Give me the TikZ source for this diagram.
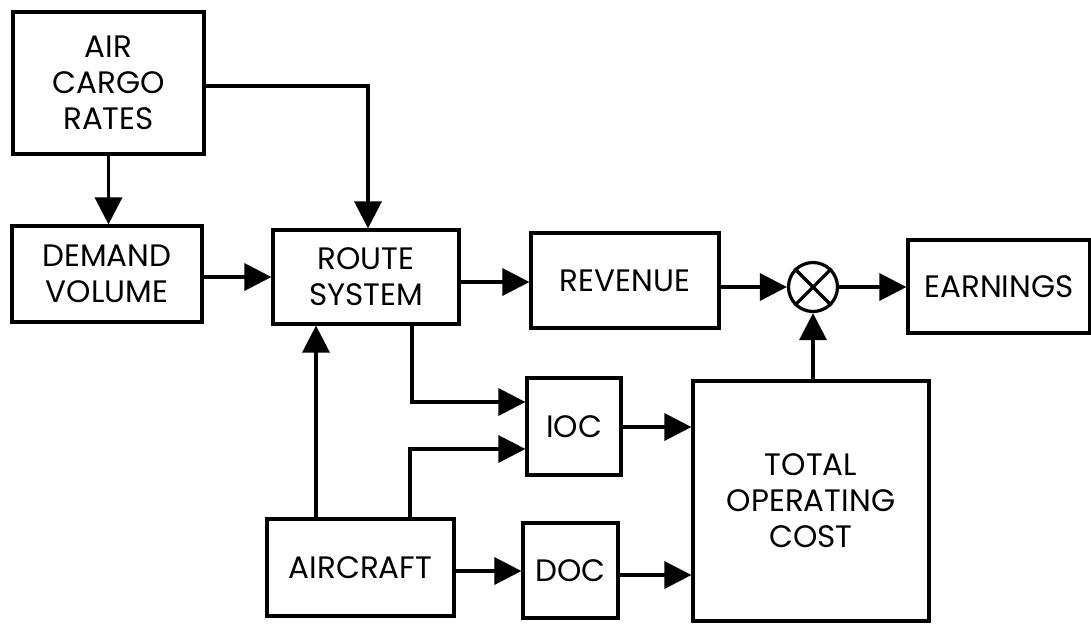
\documentclass[tikz,border=0pt]{standalone}
\usepackage{fontspec}
\setmainfont{Poppins}
\usetikzlibrary{arrows.meta}
\begin{document}
\begin{tikzpicture}[x=1pt,y=-1pt,
  box/.style={draw=black,line width=3.2pt,fill=white,align=center,inner sep=0pt,
    font=\fontsize{31}{36}\selectfont},
  arr/.style={line width=3.4pt,-{Triangle[length=27pt,width=27pt]}}]
\useasboundingbox (0,0) rectangle (1091,625);
\fill[white] (0,0) rectangle (1091,625);
\node[box,minimum width=191pt,minimum height=142pt] (acr) at (108.5,83) {AIR\\CARGO\\RATES};
\node[box,minimum width=190pt,minimum height=96pt] (dv) at (107,274) {DEMAND\\VOLUME};
\node[box,minimum width=186pt,minimum height=94pt] (rs) at (366,277) {ROUTE\\SYSTEM};
\node[box,minimum width=188pt,minimum height=95pt] (rev) at (625,280.5) {REVENUE};
\node[draw=black,line width=3.2pt,circle,minimum size=49pt,inner sep=0pt] (circ) at (813,287) {};
\draw[line width=3.2pt] (circ.north west) -- (circ.south east) (circ.north east) -- (circ.south west);
\node[box,minimum width=182pt,minimum height=93pt] (earn) at (999,286.5) {EARNINGS};
\node[box,minimum width=94pt,minimum height=97pt] (ioc) at (574,426.5) {IOC};
\node[box,minimum width=236pt,minimum height=240pt] (toc) at (811,501) {TOTAL\\OPERATING\\COST};
\node[box,minimum width=187pt,minimum height=97pt] (ac) at (360.5,567.5) {AIRCRAFT};
\node[box,minimum width=95pt,minimum height=95pt] (doc) at (570.5,570.5) {DOC};

\draw[arr] (acr.south) -- (dv.north -| acr.south);
\draw[arr] (acr.east |- 0,86) -| (rs.north -| 368,0);
\draw[arr] (dv.east |- 0,277) -- (rs.west |- 0,277);
\draw[arr] (rs.east |- 0,282) -- (rev.west |- 0,282);
\draw[arr] (rev.east |- circ) -- (circ.west);
\draw[arr] (circ.east) -- (earn.west |- circ);
\draw[arr] (toc.north -| circ) -- (circ.south);
\draw[arr] (rs.south -| 412,0) |- (ioc.west |- 0,402);
\draw[arr] (ac.north -| 410,0) |- (ioc.west |- 0,449);
\draw[arr] (ac.north -| 316,0) -- (rs.south -| 316,0);
\draw[arr] (ac.east |- 0,571) -- (doc.west |- 0,571);
\draw[arr] (ioc.east |- 0,427) -- (toc.west |- 0,427);
\draw[arr] (doc.east |- 0,575) -- (toc.west |- 0,575);
\end{tikzpicture}
\end{document}
